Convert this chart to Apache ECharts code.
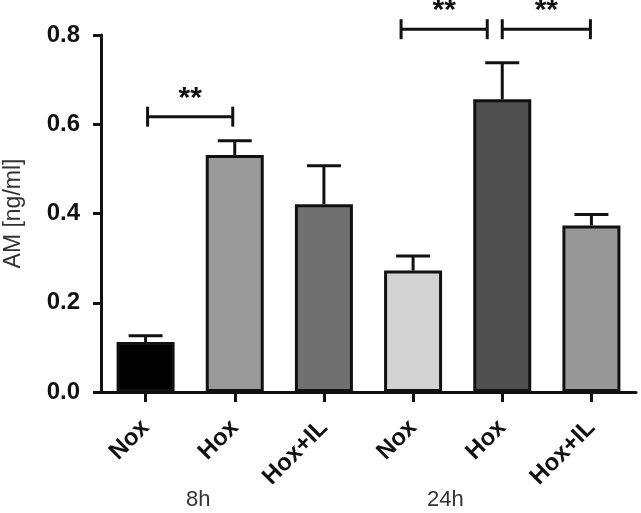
<!DOCTYPE html>
<html>
<head>
<meta charset="utf-8">
<script src="https://cdn.jsdelivr.net/npm/echarts@6/dist/echarts.min.js"></script>
<style>
html,body{margin:0;padding:0;background:#fff;}
#main{width:641px;height:513px;}
</style>
</head>
<body>
<div id="main"></div>
<script>
// ---- data ----
var categories = ['Nox', 'Hox', 'Hox+IL', 'Nox', 'Hox', 'Hox+IL'];
var means = [0.112, 0.531, 0.421, 0.272, 0.656, 0.373];
var errors = [0.014, 0.032, 0.086, 0.033, 0.082, 0.025];
var barColors = ['#000000', '#9a9a9a', '#707070', '#d2d2d2', '#4f4f4f', '#979797'];
var yTicks = [0, 0.2, 0.4, 0.6, 0.8];
var groupLabels = ['8h', '24h'];
// significance brackets: from category, to category, height (value), label
var bracketFrom = [0, 3, 4];
var bracketTo = [1, 4, 5];
var bracketY = [0.617, 0.813, 0.813];
var bracketText = ['**', '**', '**'];

// ---- style-only pixel nudges for brackets ----
var bracketShift = [[2, -2], [-12, -15], [0, -1]];

var chart = echarts.init(document.getElementById('main'), null, {renderer: 'canvas'});
var FONT = 'Liberation Sans, Arial, Helvetica, sans-serif';
var INK = '#111111';

var errData = means.map(function (m, i) { return [i, m, m + errors[i]]; });
var brData = bracketFrom.map(function (f, i) { return [f, bracketTo[i], bracketY[i], i]; });

chart.setOption({
  animation: false,
  backgroundColor: '#ffffff',
  grid: {left: 101, right: 5, top: 35, bottom: 121, containLabel: false, outerBoundsMode: 'none'},
  xAxis: {
    type: 'category',
    data: categories,
    boundaryGap: true,
    axisLine: {show: true, lineStyle: {color: INK, width: 3}},
    axisTick: {show: true, alignWithLabel: true, length: 10, lineStyle: {color: INK, width: 3}},
    axisLabel: {
      rotate: 45, margin: 32, interval: 0,
      color: '#111', fontFamily: FONT, fontWeight: 'bold', fontSize: 24
    },
    splitLine: {show: false}
  },
  yAxis: {
    type: 'value',
    min: yTicks[0], max: yTicks[yTicks.length - 1], interval: 0.2,
    name: 'AM [ng/ml]',
    nameLocation: 'middle',
    nameGap: 76,
    nameRotate: 90,
    nameTextStyle: {color: '#333', fontFamily: FONT, fontSize: 23},
    axisLine: {show: true, lineStyle: {color: INK, width: 3}},
    axisTick: {show: true, length: 8, lineStyle: {color: INK, width: 3}},
    axisLabel: {
      margin: 21, color: '#111', fontFamily: FONT, fontWeight: 'bold', fontSize: 24,
      formatter: function (v) { return v.toFixed(1); }
    },
    splitLine: {show: false}
  },
  series: [
    {
      type: 'bar',
      barWidth: 58,
      data: means.map(function (m, i) {
        return {value: m, itemStyle: {color: barColors[i]}};
      }),
      itemStyle: {borderColor: INK, borderWidth: 3},
      z: 2
    },
    {
      type: 'custom',
      data: errData,
      z: 1,
      renderItem: function (params, api) {
        var x = api.value(0);
        var top = api.coord([x, api.value(2)]);
        var base = api.coord([x, api.value(1)]);
        var hw = 17;
        return {
          type: 'group',
          children: [
            {type: 'line', shape: {x1: top[0], y1: top[1], x2: base[0], y2: base[1]},
             style: {stroke: INK, lineWidth: 3}},
            {type: 'line', shape: {x1: top[0] - hw, y1: top[1], x2: top[0] + hw, y2: top[1]},
             style: {stroke: INK, lineWidth: 3}}
          ]
        };
      }
    },
    {
      type: 'custom',
      data: brData,
      clip: false,
      z: 5,
      renderItem: function (params, api) {
        var idx = api.value(3);
        var a = api.coord([api.value(0), api.value(2)]);
        var b = api.coord([api.value(1), api.value(2)]);
        var x1 = a[0] + bracketShift[idx][0];
        var x2 = b[0] + bracketShift[idx][1];
        var y = a[1];
        var h = 10;
        return {
          type: 'group',
          children: [
            {type: 'line', shape: {x1: x1, y1: y, x2: x2, y2: y}, style: {stroke: INK, lineWidth: 3}},
            {type: 'line', shape: {x1: x1, y1: y - h, x2: x1, y2: y + h}, style: {stroke: INK, lineWidth: 3}},
            {type: 'line', shape: {x1: x2, y1: y - h, x2: x2, y2: y + h}, style: {stroke: INK, lineWidth: 3}},
            {type: 'text', x: (x1 + x2) / 2, y: y - 18,
             style: {text: bracketText[idx], fill: INK, font: 'bold 30px ' + FONT,
                     textAlign: 'center', textVerticalAlign: 'middle'}}
          ]
        };
      }
    }
  ],
  graphic: [
    {type: 'text', left: 186, top: 489,
     style: {text: groupLabels[0], fill: '#333', font: '22px ' + FONT}},
    {type: 'text', left: 427, top: 489,
     style: {text: groupLabels[1], fill: '#333', font: '22px ' + FONT}}
  ]
});
</script>
</body>
</html>
